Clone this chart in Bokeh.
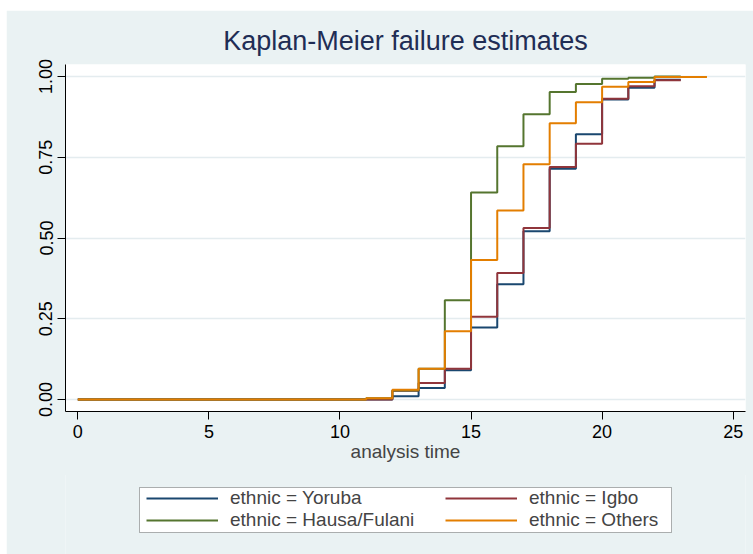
from bokeh.plotting import figure
from bokeh.layouts import column
from bokeh.models import Legend, LegendItem, FixedTicker, NumeralTickFormatter, Range1d, BoxAnnotation
from bokeh.embed import file_html
from bokeh.resources import INLINE

# step times (value after the step at that time)
times = [0, 11, 12, 13, 14, 15, 16, 17, 18, 19, 20, 21, 22]
yoruba = [0, 0, 0.010, 0.036, 0.091, 0.223, 0.357, 0.521, 0.714, 0.821, 0.929, 0.965, 0.990]
igbo = [0, 0, 0.027, 0.051, 0.095, 0.256, 0.392, 0.531, 0.720, 0.792, 0.931, 0.970, 0.988]
hausa = [0, 0.004, 0.028, 0.095, 0.307, 0.641, 0.784, 0.883, 0.952, 0.977, 0.993, 0.996, 1.000]
others = [0, 0.004, 0.030, 0.095, 0.211, 0.432, 0.585, 0.728, 0.855, 0.920, 0.968, 0.983, 0.998]
end_times = {"Yoruba": 23, "Igbo": 23, "Hausa/Fulani": 23, "Others": 24}

x_ticks = [0, 5, 10, 15, 20, 25]
y_ticks = [0, 0.25, 0.5, 0.75, 1.0]

BG = "#EAF2F3"
FONT = "Liberation Sans"
COLORS = {"Yoruba": "#1A476F", "Igbo": "#90353B", "Hausa/Fulani": "#55752F", "Others": "#E37E00"}

p = figure(frame_width=680, frame_height=347, output_backend="svg", toolbar_location=None,
           x_range=Range1d(-0.47, 25.47), y_range=Range1d(-0.037, 1.037),
           min_border_left=59, min_border_right=8, min_border_top=54, min_border_bottom=64)
p.margin = (10, 0, 0, 6)
p.border_fill_color = BG
p.background_fill_color = "white"
p.outline_line_color = None

p.title.text = "Kaplan-Meier failure estimates"
p.title.align = "center"
p.title.text_font = FONT
p.title.text_font_size = "27px"
p.title.text_font_style = "normal"
p.title.text_color = "#1F2D55"
p.title.standoff = 18

series = [("Yoruba", yoruba), ("Igbo", igbo), ("Hausa/Fulani", hausa), ("Others", others)]
for name, vals in series:
    xs = times + [end_times[name]]
    ys = vals + [vals[-1]]
    p.step(xs, ys, mode="after", line_color=COLORS[name], line_width=2)

p.xgrid.visible = False
p.ygrid.grid_line_color = "#E4ECEF"
p.ygrid.grid_line_width = 1.5

p.xaxis.ticker = FixedTicker(ticks=x_ticks)
p.yaxis.ticker = FixedTicker(ticks=y_ticks)
p.yaxis.formatter = NumeralTickFormatter(format="0.00")
p.yaxis.major_label_orientation = "vertical"
for ax in (p.xaxis[0], p.yaxis[0]):
    ax.axis_line_color = "black"
    ax.major_tick_line_color = "black"
    ax.major_tick_out = 8
    ax.major_tick_in = 0
    ax.minor_tick_out = 0
    ax.minor_tick_in = 0
    ax.major_label_text_font = FONT
    ax.major_label_text_font_size = "18px"
    ax.major_label_text_color = "black"
    ax.major_label_standoff = 5
p.xaxis.axis_label = "analysis time"
p.xaxis.axis_label_text_font = FONT
p.xaxis.axis_label_text_font_size = "19px"
p.xaxis.axis_label_text_font_style = "normal"
p.xaxis.axis_label_standoff = 0

# legend panel below the plot (its ranges are in pixels of the panel)
leg = figure(width=747, height=80, output_backend="svg", toolbar_location=None,
             x_range=Range1d(0, 680), y_range=Range1d(0, 80),
             x_axis_location=None, y_axis_location=None, min_border=0)
leg.margin = (-1, 0, 0, 6)
leg.border_fill_color = BG
leg.background_fill_color = BG
leg.outline_line_color = None
leg.xgrid.visible = False
leg.ygrid.visible = False

leg.add_layout(BoxAnnotation(left=74, right=606, bottom=22, top=67,
                             fill_color="white", fill_alpha=1.0,
                             line_color="black", line_width=1))

nan = float("nan")
def make_item(name):
    r = leg.line(x=[nan], y=[nan], line_color=COLORS[name], line_width=2)
    return LegendItem(label="ethnic = " + name, renderers=[r])

def make_legend(names, x):
    lg = Legend(items=[make_item(n) for n in names], orientation="vertical", location=(x, 23))
    lg.label_text_font = FONT
    lg.label_text_font_size = "19px"
    lg.glyph_width = 72
    lg.glyph_height = 18
    lg.label_height = 18
    lg.label_standoff = 12
    lg.spacing = 0
    lg.padding = 0
    lg.margin = 0
    lg.border_line_color = None
    lg.background_fill_alpha = 0
    return lg

leg.add_layout(make_legend(["Yoruba", "Hausa/Fulani"], 81), "center")
leg.add_layout(make_legend(["Igbo", "Others"], 380), "center")

layout = column(p, leg, spacing=0)
open("out.html", "w").write(file_html(layout, INLINE))
